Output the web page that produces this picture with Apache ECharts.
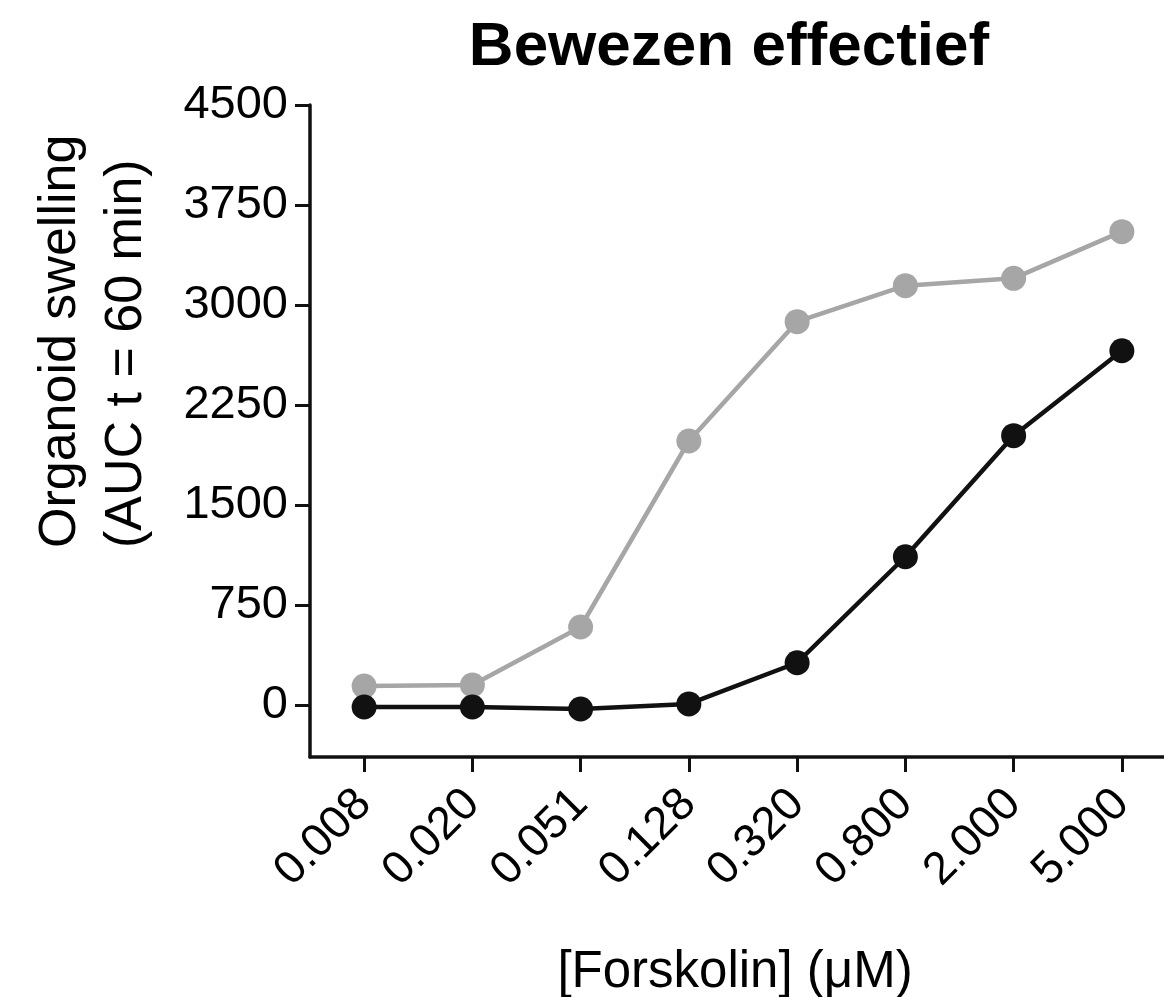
<!DOCTYPE html>
<html>
<head>
<meta charset="utf-8">
<script src="https://cdn.jsdelivr.net/npm/echarts@6/dist/echarts.min.js"></script>
<style>
html,body{margin:0;padding:0;background:#fff;}
#chart{width:1164px;height:997px;}
</style>
</head>
<body>
<div id="chart"></div>
<script>
var categories = ['0.008','0.020','0.051','0.128','0.320','0.800','2.000','5.000'];
var greySeries = [142, 150, 585, 1980, 2875, 3145, 3200, 3550];
var blackSeries = [-15, -15, -30, 8, 317, 1112, 2020, 2657];
var yTicks = [0, 750, 1500, 2250, 3000, 3750, 4500];
var titleText = 'Bewezen effectief';
var xName = '[Forskolin] (\u03bcM)';
var yName = 'Organoid swelling\n(AUC t = 60 min)';

var FONT = "'Liberation Sans', Arial, sans-serif";
var chart = echarts.init(document.getElementById('chart'), null, {renderer:'canvas'});
chart.setOption({
  backgroundColor: '#ffffff',
  animation: false,
  title: {
    text: titleText,
    left: 724, top: 12, textAlign: 'center',
    textStyle: {fontFamily: FONT, fontWeight: 'bold', fontSize: 62, color: '#000'}
  },
  grid: {left: 310, right: -12, top: 105, bottom: 240, containLabel: false, outerBoundsMode: 'none'},
  xAxis: {
    type: 'category',
    data: categories,
    boundaryGap: true,
    name: xName,
    nameLocation: 'middle',
    nameGap: 190,
    nameTextStyle: {fontFamily: FONT, fontSize: 51, color: '#000', padding: [0, 0, 0, -16]},
    axisLine: {show: true, onZero: false, lineStyle: {color: '#111', width: 3.5}},
    axisTick: {show: true, alignWithLabel: true, length: 15, lineStyle: {color: '#111', width: 3}},
    axisLabel: {rotate: 45, margin: 40, fontFamily: FONT, fontSize: 46, color: '#000'},
    splitLine: {show: false}
  },
  yAxis: {
    type: 'value',
    min: -390, max: 4500,
    axisLine: {show: true, lineStyle: {color: '#111', width: 3.5}},
    axisTick: {show: true, length: 15, customValues: yTicks, lineStyle: {color: '#111', width: 3}},
    axisLabel: {customValues: yTicks, margin: 22, fontFamily: FONT, fontSize: 47, color: '#000',
      formatter: function (v) { return String(v); }},
    splitLine: {show: false}
  },
  graphic: [{
    type: 'text',
    x: 94, y: 548,
    rotation: Math.PI / 2,
    style: {
      text: yName,
      font: '52px ' + FONT,
      fill: '#000',
      textAlign: 'left',
      textVerticalAlign: 'middle',
      lineHeight: 66
    }
  }],
  series: [{
    name: 'grey',
    type: 'line',
    data: greySeries,
    symbol: 'circle', symbolSize: 25,
    itemStyle: {color: '#a6a6a6'},
    lineStyle: {color: '#a6a6a6', width: 4.5}
  }, {
    name: 'black',
    type: 'line',
    data: blackSeries,
    symbol: 'circle', symbolSize: 25,
    itemStyle: {color: '#111111'},
    lineStyle: {color: '#111111', width: 4.5}
  }]
});
</script>
</body>
</html>
